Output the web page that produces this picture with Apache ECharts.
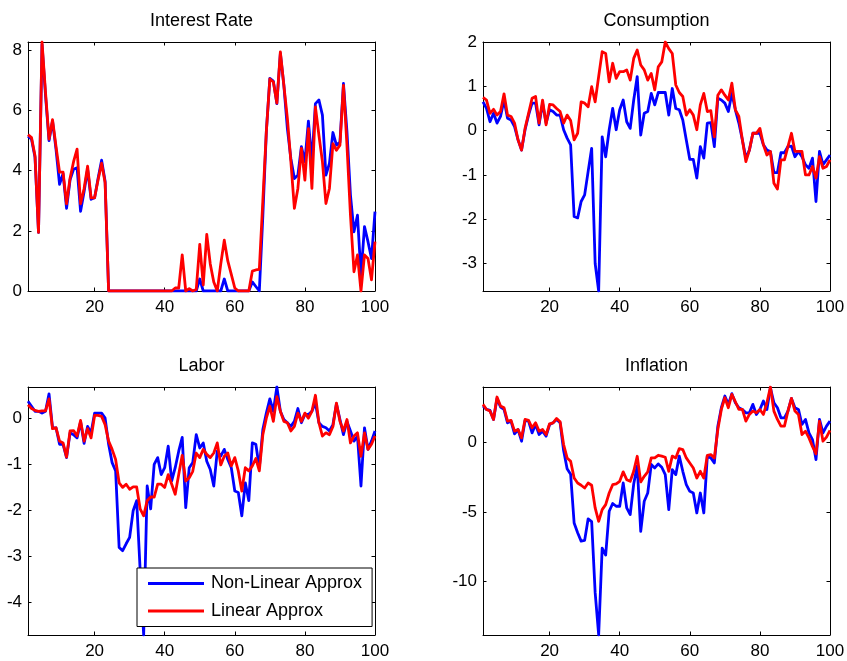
<!DOCTYPE html>
<html>
<head>
<meta charset="utf-8">
<script src="https://cdn.jsdelivr.net/npm/echarts@6/dist/echarts.min.js"></script>
<style>
html,body{margin:0;padding:0;background:#fff;}
#c{width:847px;height:661px;}
</style>
</head>
<body>
<div id="c"></div>
<script>
// ---------- data ----------
const titles = ['Interest Rate', 'Consumption', 'Labor', 'Inflation'];
const seriesNames = ['Non-Linear Approx', 'Linear Approx'];
const xTicks = [20, 40, 60, 80, 100];
const yTicksInterest = [0, 2, 4, 6, 8];
const yTicksConsumption = [-3, -2, -1, 0, 1, 2];
const yTicksLabor = [-4, -3, -2, -1, 0];
const yTicksInflation = [-10, -5, 0];

const interestNonLin = [5.15,5.05,4.45,1.95,8.2,6.5,5.0,5.65,4.7,3.55,
 3.9,2.75,3.7,4.05,4.1,2.65,3.3,4.05,3.05,3.1,
 3.75,4.35,3.65,0,0,0,0,0,0,0,
 0,0,0,0,0,0,0,0,0,0,
 0,0,0,0,0,0,0,0,0,0.4,
 0,0,0,0,0,0,0.4,0,0,0,
 0,0,0,0,0.3,0.15,0,2.5,5.3,7.07,
 6.98,6.23,7.9,6.84,5.4,4.4,3.74,3.85,4.8,4.3,
 5.65,4.3,6.23,6.35,5.85,3.85,4.24,5.27,4.85,4.95,
 6.9,5.3,3.19,1.97,2.52,0.53,2.14,1.64,1.08,2.64];
const interestLin = [5.2,5.1,4.5,1.95,8.28,6.6,5.05,5.7,4.8,3.95,
 3.95,2.9,3.75,4.3,4.72,2.9,3.4,4.15,3.1,3.1,
 3.7,4.25,3.6,0,0,0,0,0,0,0,
 0,0,0,0,0,0,0,0,0,0,
 0,0,0.1,0.1,1.2,0,0.08,0,0.05,1.55,
 0.2,1.88,0.9,0.3,0,0.9,1.69,1.0,0.55,0.1,
 0,0,0,0,0.66,0.7,0.72,3.0,5.3,7.05,
 6.95,6.25,7.95,6.84,5.74,4.3,2.75,3.41,4.74,3.69,
 5.4,3.41,6.12,5.18,4.3,2.91,3.41,4.9,4.68,4.85,
 6.84,4.85,2.52,0.64,1.2,0,1.2,1.08,0.37,1.64];

const consNonLin = [0.65,0.5,0.2,0.39,0.17,0.32,0.69,0.28,0.24,0.09,
 -0.21,-0.44,0.02,0.35,0.62,0.62,0.13,0.62,0.17,0.47,
 0.43,0.35,0.35,0.02,-0.17,-0.32,-1.94,-1.97,-1.6,-1.45,
 -0.92,-0.4,-3.0,-3.62,-0.14,-0.59,0.02,0.5,0.02,0.47,
 0.69,0.2,0.05,0.69,1.22,-0.1,0.39,0.43,0.84,0.58,
 0.86,0.86,0.86,0.35,0.95,0.5,0.47,0.24,-0.21,-0.65,
 -0.65,-1.07,-0.36,-0.62,0.17,0.18,-0.36,0.73,0.69,0.62,
 0.43,0.84,0.47,0.17,-0.21,-0.62,-0.44,-0.06,-0.06,-0.06,
 -0.32,-0.44,-0.47,-0.95,-0.95,-0.5,-0.5,-0.36,-0.35,-0.59,
 -0.47,-0.59,-0.77,-0.85,-0.62,-1.6,-0.47,-0.77,-0.66,-0.55];
const consLin = [0.75,0.69,0.39,0.48,0.35,0.43,0.83,0.35,0.32,0.17,
 -0.21,-0.44,0.05,0.39,0.73,0.77,0.17,0.69,0.13,0.59,
 0.58,0.5,0.43,0.17,0.35,0.23,-0.21,-0.06,0.65,0.62,
 0.54,0.99,0.65,1.22,1.78,1.74,1.1,1.52,1.18,1.33,
 1.33,1.37,1.14,1.63,1.82,1.48,1.37,1.14,1.29,0.92,
 1.44,1.55,2.0,1.85,1.74,1.03,0.86,0.77,0.35,0.47,
 0.35,0.02,0.58,0.84,0.43,0.45,-0.14,0.8,0.92,0.8,
 0.69,1.07,0.47,0.32,-0.21,-0.7,-0.44,-0.06,-0.06,0.05,
 -0.32,-0.55,-0.47,-1.19,-1.32,-0.66,-0.66,-0.36,-0.06,-0.47,
 -0.47,-0.47,-1.0,-1.0,-0.81,-1.07,-0.59,-0.85,-0.81,-0.66];

const laborNonLin = [0.38,0.27,0.16,0.16,0.12,0.16,0.54,-0.2,-0.2,-0.56,
 -0.56,-0.85,-0.31,-0.35,-0.42,-0.07,-0.54,-0.17,-0.31,0.12,
 0.12,0.12,0.01,-0.56,-0.96,-1.14,-2.81,-2.88,-2.73,-2.59,
 -2.01,-1.79,-3.31,-4.72,-1.47,-1.97,-1.0,-0.85,-1.22,-1.07,
 -0.6,-1.36,-1.07,-0.71,-0.41,-1.94,-1.07,-0.96,-0.35,-0.64,
 -0.53,-0.93,-1.11,-1.47,-0.71,-0.82,-0.67,-0.89,-1.07,-1.58,
 -1.61,-2.12,-1.4,-1.79,-0.53,-0.56,-1.07,-0.24,0.12,0.43,
 0.16,0.69,0.16,-0.02,-0.09,-0.17,-0.06,0.22,-0.09,0.09,
 0.09,0.16,0.34,-0.09,-0.17,-0.2,-0.27,-0.13,0.32,-0.02,
 -0.35,-0.06,-0.27,-0.49,-0.38,-1.47,-0.2,-0.67,-0.49,-0.27];
const laborLin = [0.3,0.22,0.18,0.16,0.17,0.17,0.43,-0.22,-0.2,-0.49,
 -0.53,-0.84,-0.27,-0.26,-0.38,-0.04,-0.49,-0.22,-0.42,0.07,
 0.07,0.05,-0.13,-0.49,-0.67,-0.89,-1.4,-1.5,-1.43,-1.54,
 -1.49,-1.49,-1.97,-2.12,-1.79,-1.71,-1.71,-1.43,-1.43,-1.5,
 -1.22,-1.43,-1.65,-1.22,-0.8,-1.36,-1.29,-1.15,-0.75,-0.85,
 -0.67,-0.78,-0.85,-0.75,-0.53,-1.01,-0.82,-0.75,-1.03,-0.85,
 -1.14,-1.58,-1.07,-1.14,-1.03,-0.87,-1.14,-0.35,0.01,0.27,
 -0.06,0.48,0.16,-0.06,-0.09,-0.27,-0.17,0.12,-0.06,0.12,
 0.01,0.16,0.51,-0.09,-0.38,-0.31,-0.35,-0.17,0.34,-0.06,
 -0.27,-0.02,-0.53,-0.38,-0.31,-0.82,-0.31,-0.67,-0.56,-0.38];

const inflNonLin = [2.59,2.35,2.28,1.63,3.14,2.52,2.35,1.39,1.51,0.6,
 0.91,0.07,1.56,1.51,0.67,1.27,0.55,0.79,0.43,1.27,
 1.39,1.63,1.39,-0.6,-1.9,-2.3,-5.8,-6.5,-7.1,-7.05,
 -5.5,-5.7,-10.8,-13.84,-7.6,-8.1,-4.96,-4.4,-4.6,-4.6,
 -2.93,-4.72,-5.2,-3.0,-1.7,-6.4,-4.24,-3.65,-1.6,-1.85,
 -1.56,-1.8,-2.33,-4.84,-1.97,-2.33,-1.0,-2.09,-3.05,-3.53,
 -3.65,-5.08,-3.65,-5.08,-1.0,-1.13,-1.49,1.15,2.47,3.31,
 2.71,3.48,2.83,2.47,2.35,2.11,2.11,2.71,1.99,2.35,
 2.95,2.35,3.91,2.83,2.47,1.75,1.75,2.23,3.14,2.47,
 2.35,1.27,1.63,0.67,0.19,-1.25,1.63,0.67,1.15,1.51];
const inflLin = [2.71,2.35,2.23,1.63,3.24,2.59,2.47,1.51,1.56,0.79,
 0.91,0.31,1.63,1.56,1.03,1.39,0.79,0.91,0.55,1.32,
 1.39,1.7,1.46,-0.17,-1.13,-1.37,-2.57,-2.93,-3.09,-3.29,
 -2.93,-3.09,-4.72,-5.68,-4.84,-4.48,-3.65,-3.05,-3.0,-2.81,
 -2.13,-2.69,-2.81,-2.09,-1.01,-2.85,-2.45,-2.13,-1.13,-1.13,
 -0.94,-1.0,-1.08,-2.09,-1.0,-1.13,-0.46,-0.53,-1.13,-1.49,
 -1.85,-2.57,-2.09,-2.57,-0.94,-0.89,-1.13,0.91,2.35,3.19,
 2.47,3.43,2.9,2.35,2.35,1.51,1.99,2.23,2.11,2.35,
 1.99,2.83,3.96,2.23,1.63,1.15,1.15,2.23,3.14,2.23,
 1.99,0.55,0.79,0.31,-0.3,-0.84,1.51,0.07,0.36,0.84];

// ---------- chart ----------
const panelData = [
  [interestNonLin, interestLin, yTicksInterest],
  [consNonLin, consLin, yTicksConsumption],
  [laborNonLin, laborLin, yTicksLabor],
  [inflNonLin, inflLin, yTicksInflation]
];
const layout = [
  {left: 28, top: 42, width: 347, height: 249},
  {left: 483, top: 42, width: 347, height: 249},
  {left: 28, top: 387, width: 347, height: 248},
  {left: 483, top: 387, width: 347, height: 248}
];
const FONT = '"Liberation Sans", Arial, Helvetica, sans-serif';
const colors = ['#0000ff', '#ff0000'];

const grids = [], xAxes = [], yAxes = [], series = [], titleArr = [];
panelData.forEach((pd, p) => {
  const L = layout[p];
  grids.push({left: L.left, top: L.top, width: L.width, height: L.height,
    containLabel: false, outerBoundsMode: 'none', show: false});
  const all = pd[0].concat(pd[1]);
  const ymin = Math.min.apply(null, all), ymax = Math.max.apply(null, all);
  const axCommon = {
    type: 'value', gridIndex: p, splitLine: {show: false},
    axisLine: {show: true, onZero: false, lineStyle: {color: '#000', width: 1}}
  };
  xAxes.push(Object.assign({}, axCommon, {
    position: 'bottom', min: 1, max: 100,
    axisTick: {show: true, inside: true, length: 3.5, customValues: xTicks, lineStyle: {color: '#000'}},
    axisLabel: {show: true, customValues: xTicks, margin: 8, color: '#000', fontSize: 17, lineHeight: 17, fontFamily: FONT}
  }));
  xAxes.push(Object.assign({}, axCommon, {
    position: 'top', min: 1, max: 100,
    axisTick: {show: true, inside: true, length: 3.5, customValues: xTicks, lineStyle: {color: '#000'}},
    axisLabel: {show: false}
  }));
  yAxes.push(Object.assign({}, axCommon, {
    position: 'left', min: ymin, max: ymax,
    axisTick: {show: true, inside: true, length: 3.5, customValues: pd[2], lineStyle: {color: '#000'}},
    axisLabel: {show: true, customValues: pd[2], margin: 6, color: '#000', fontSize: 17, fontFamily: FONT}
  }));
  yAxes.push(Object.assign({}, axCommon, {
    position: 'right', min: ymin, max: ymax,
    axisTick: {show: true, inside: true, length: 3.5, customValues: pd[2], lineStyle: {color: '#000'}},
    axisLabel: {show: false}
  }));
  [0, 1].forEach(k => {
    series.push({
      type: 'line', name: seriesNames[k],
      xAxisIndex: 2 * p, yAxisIndex: 2 * p,
      data: pd[k].map((v, i) => [i + 1, v]),
      symbol: 'none', showSymbol: false, smooth: false, clip: true,
      color: colors[k],
      lineStyle: {color: colors[k], width: 2.8, join: 'round'},
      emphasis: {disabled: true}, silent: true, z: 2 + k
    });
  });
  titleArr.push({
    text: titles[p], left: L.left + L.width / 2, textAlign: 'center',
    top: p < 2 ? 12 : 357, padding: 0,
    textStyle: {fontSize: 18, fontWeight: 'normal', color: '#000', fontFamily: FONT, lineHeight: 18}
  });
});

const chart = echarts.init(document.getElementById('c'), null, {renderer: 'canvas'});
chart.setOption({
  animation: false,
  backgroundColor: '#fff',
  title: titleArr,
  grid: grids,
  xAxis: xAxes,
  yAxis: yAxes,
  legend: {
    data: seriesNames, orient: 'vertical', left: 137, top: 568,
    padding: [5, 10, 5, 11], itemWidth: 56, itemHeight: 3, itemGap: 6.5,
    icon: 'rect', backgroundColor: '#fff', borderColor: '#000', borderWidth: 1,
    borderRadius: 0, selectedMode: false, z: 10,
    textStyle: {fontSize: 18, lineHeight: 21, color: '#000', fontFamily: FONT, padding: [0, 0, 0, 2]}
  },
  series: series
});
</script>
</body>
</html>
